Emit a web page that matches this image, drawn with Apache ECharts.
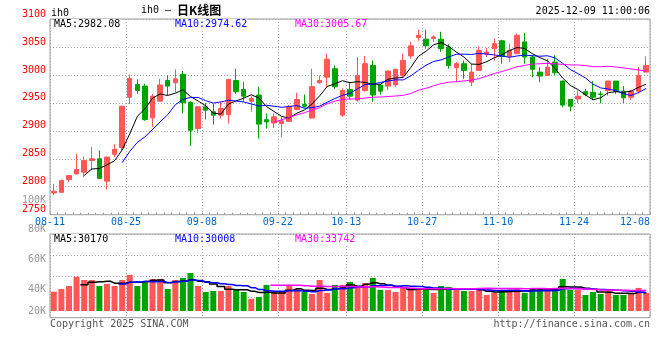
<!DOCTYPE html>
<html><head><meta charset="utf-8">
<script src="https://cdn.jsdelivr.net/npm/echarts@6/dist/echarts.min.js"></script>
<style>html,body{margin:0;padding:0;background:#fff}#c{width:660px;height:360px}</style>
</head><body><div id="c"></div>
<script>
const dates = ['08-12','08-13','08-14','08-15','08-18','08-19','08-20','08-21','08-22','08-25','08-26','08-27','08-28','08-29',
 '09-01','09-02','09-03','09-04','09-05','09-08','09-09','09-10','09-11','09-12','09-15','09-16','09-17','09-18','09-19',
 '09-22','09-23','09-24','09-25','09-26','09-29','09-30','10-09','10-10','10-13','10-14','10-15','10-16','10-17',
 '10-20','10-21','10-22','10-23','10-24','10-27','10-28','10-29','10-30','10-31','11-03','11-04','11-05','11-06','11-07',
 '11-10','11-11','11-12','11-13','11-14','11-17','11-18','11-19','11-20','11-21','11-24','11-25','11-26','11-27','11-28',
 '12-01','12-02','12-03','12-04','12-05','12-08'];
const prevDate = '08-11';
const opens = [2789,2790,2813,2823,2826,2847,2850,2810,2858,2870, 2960,2983,2980,2923,2953,2990,2986,3001,2951,2904,
 2943,2934,2928,2929,2990,2974,2953,2964,2920,2914, 2913,2917,2938,2947,2923,2986,2996,3011,2928,
 2974,2955,2972,3017,2982,2980,2982,2999,3034,3067, 3064,3065,3064,3050,3013,3020,2987,3008,3037,3047,
 3061,3033,3038,3059,3032,3005,2999,3023,2989,2956, 2957,2970,2969,2966,2972,2989,2971,2960,2971,3005];
const closes = [2792,2811,2820,2831,2847,2850,2815,2853,2867,2944, 2994,2972,2920,2962,2982,2980,2993,2950,2901,2943,
 2937,2928,2940,2992,2970,2962,2958,2912,2916,2925, 2918,2943,2956,2944,2979,2990,3028,2979,2972,
 2962,2999,3020,2964,2971,3007,3010,3026,3052,3071, 3052,3068,3047,3017,3020,3008,3005,3044,3041,3056,
 3033,3044,3071,3032,3010,2998,3014,3004,2946,2944, 2962,2965,2960,2965,2989,2971,2959,2971,2999,3017];
const lows = [2785,2789,2808,2822,2817,2829,2814,2795,2853,2866, 2948,2966,2918,2907,2953,2963,2969,2931,2873,2896,
 2920,2911,2922,2913,2966,2952,2934,2886,2904,2905, 2889,2916,2937,2941,2922,2984,2978,2975,2925,
 2956,2952,2970,2952,2965,2973,2979,2996,3029,3061, 3047,3059,3041,3011,2987,2993,2980,3007,3032,3026,
 3020,3023,3038,3020,2996,2987,2999,2999,2942,2935, 2950,2962,2955,2949,2963,2966,2950,2955,2967,3005];
const highs = [2805,2813,2821,2859,2854,2871,2865,2854,2876,2945, 3001,2992,2984,2966,2993,2999,3010,3007,2953,2943,
 2950,2948,2951,2992,3011,2987,2962,2979,2931,2931, 2925,2946,2968,2965,3011,2999,3038,3017,2976,
 2987,3032,3034,3026,2984,3008,3011,3038,3059,3081, 3081,3071,3077,3055,3023,3026,3020,3051,3049,3065,
 3063,3056,3074,3075,3035,3014,3029,3035,2990,2956, 2972,2975,2989,2971,2989,2989,2980,2973,3014,3033];
const volumes = [41500,43300,45300,51500,49300,49300,45300,46700,45300,49300, 52700,45300,48700,50000,50000,43300,49300,50700,54000,45300,
 41300,42000,42000,45300,43300,41300,36700,38000,46000,41300, 41300,45300,43300,41300,40000,49300,40700,
 46000,46000,48000,45300,47300,50700,42700,42700,41300,44000, 44000,43300,42700,40700,45300,44700,42700,42000,42000,42700,
 39300,40700,42700,42700,43300,40700,43300,43300,43300,44000, 50000,42700,42700,39300,41300,40000,42000,39300,39300,40700,
 44000,40700];
const xTickLabels = ['08-11','08-25','09-08','09-22','10-13','10-27','11-10','11-24','12-08'];
const priceLegend = ['MA5:2982.08','MA10:2974.62','MA30:3005.67'];
const volLegend = ['MA5:30170','MA10:30008','MA30:33742'];
const volTickValues = [40000, 60000, 80000];
const extraLabels = ['100K', '20K'];
const maPeriods = [5, 10, 30];
const maColors = ['#000000', '#0000ff', '#ff00ff'];

const RED = '#ff5656', GREEN = '#00a400';
const FONT = 'DejaVu Sans Mono';
function ma(arr, n) {
  return arr.map((v, i) => {
    if (i < n - 1) return '-';
    let s = 0; for (let k = i - n + 1; k <= i; k++) s += arr[k];
    return +(s / n).toFixed(2);
  });
}
const edgeDates = [prevDate].concat(dates);
const lastLabel = xTickLabels[xTickLabels.length - 1];
const showEdge = (idx, val) => xTickLabels.indexOf(val) >= 0;
const kData = dates.map((d, i) => [opens[i], closes[i], lows[i], highs[i]]);
const volData = volumes.map((v, i) => ({ value: v, itemStyle: { color: closes[i] >= opens[i] ? RED : GREEN } }));
const dotted = { color: '#aaaaaa', type: [1, 2], width: 1 };

const series = [{
  type: 'candlestick', xAxisIndex: 0, yAxisIndex: 0, data: kData, barWidth: 5,
  itemStyle: { color: RED, color0: GREEN, borderColor: RED, borderColor0: GREEN, borderWidth: 1 }
}];
maPeriods.forEach((p, j) => {
  series.push({ type: 'line', xAxisIndex: 0, yAxisIndex: 0, data: ma(closes, p), symbol: 'none',
    lineStyle: { color: maColors[j], width: 1 }, z: 5 });
});
series.push({ type: 'bar', xAxisIndex: 3, yAxisIndex: 2, data: volData, barWidth: 6 });
maPeriods.forEach((p, j) => {
  series.push({ type: 'line', xAxisIndex: 3, yAxisIndex: 2, data: ma(volumes, p), symbol: 'none', step: 'middle',
    lineStyle: { color: maColors[j], width: 1.5 }, z: 5 });
});

function txt(x, y, text, fill, align, vAlign, extra) {
  return Object.assign({ type: 'text', x: x, y: y, z: 100,
    style: Object.assign({ text: text, fill: fill, font: '10px "' + FONT + '"', align: align || 'left', verticalAlign: vAlign || 'middle' }, extra || {}) });
}
const legendX = [54, 175, 295];
const graphics = [
  txt(51, 13, 'ih0', '#000'),
  { type: 'text', x: 141, y: 10, z: 100, style: { text: '{a|ih0 – }{b|日K线图}', align: 'left', verticalAlign: 'middle',
    rich: { a: { font: '10px "' + FONT + '"', fill: '#000' }, b: { font: 'bold 12px "Noto Sans CJK SC"', fill: '#000' } } } },
  txt(650, 11, '2025-12-09 11:00:06', '#000', 'right'),
  txt(46, 205, extraLabels[0], '#999', 'right', 'bottom'),
  txt(46, 316, extraLabels[1], '#999', 'right', 'bottom'),
  txt(50, 324, 'Copyright 2025 SINA.COM', '#555'),
  txt(650, 324, 'http://finance.sina.com.cn', '#555', 'right')
];
priceLegend.forEach((t, j) => graphics.push(txt(legendX[j], 24, t, maColors[j], 'left', 'middle', { backgroundColor: '#fff' })));
volLegend.forEach((t, j) => graphics.push(txt(legendX[j], 239, t, maColors[j], 'left', 'middle', { backgroundColor: '#fff' })));

const option = {
  animation: false,
  backgroundColor: '#fff',
  grid: [
    { left: 50, top: 19, width: 600, height: 195.7, show: true, borderColor: '#999', borderWidth: 1 },
    { left: 50, top: 234, width: 600, height: 83.7, show: true, borderColor: '#999', borderWidth: 1 },
    { left: 50, top: 234, width: 600, height: 77, show: false }
  ],
  xAxis: [
    { gridIndex: 0, type: 'category', data: dates, boundaryGap: true, axisLine: { show: false },
      axisTick: { show: true, inside: true, length: 2, interval: 0, lineStyle: { color: '#999' } },
      axisLabel: { show: false }, splitLine: { show: false } },
    { gridIndex: 0, type: 'category', data: edgeDates, boundaryGap: false, position: 'bottom',
      axisLine: { show: false }, axisTick: { show: false },
      axisLabel: { show: true, interval: showEdge, color: '#0066cc', fontFamily: FONT, fontSize: 10, margin: 3,
        formatter: v => v === lastLabel ? '{r|' + v + '}' : v,
        rich: { r: { padding: [0, 30, 0, 0], color: '#0066cc', fontFamily: FONT, fontSize: 10 } } },
      splitLine: { show: true, interval: showEdge, lineStyle: dotted } },
    { gridIndex: 1, type: 'category', data: edgeDates, boundaryGap: false,
      axisLine: { show: false }, axisTick: { show: false }, axisLabel: { show: false },
      splitLine: { show: true, interval: showEdge, lineStyle: dotted } },
    { gridIndex: 2, type: 'category', data: dates, boundaryGap: true,
      axisLine: { show: false }, axisTick: { show: false }, axisLabel: { show: false }, splitLine: { show: false } }
  ],
  yAxis: [
    { gridIndex: 0, type: 'value', min: 2750, max: 3100, interval: 50, axisLine: { show: false }, axisTick: { show: false },
      axisLabel: { color: '#ff0000', fontFamily: FONT, fontSize: 10, margin: 4, verticalAlign: 'bottom', formatter: v => String(v) },
      splitLine: { show: true, lineStyle: dotted } },
    { gridIndex: 1, type: 'value', min: 0, max: 4, interval: 1, axisLine: { show: false }, axisTick: { show: false },
      axisLabel: { show: false }, splitLine: { show: true, lineStyle: dotted } },
    { gridIndex: 2, type: 'value', min: 28600, max: 80000, axisLine: { show: false }, axisTick: { show: false },
      axisLabel: { customValues: volTickValues, formatter: v => (v / 1000) + 'K', color: '#999', fontFamily: FONT, fontSize: 10, margin: 4, verticalAlign: 'bottom' },
      splitLine: { show: false } }
  ],
  series: series,
  graphic: graphics
};
const chart = echarts.init(document.getElementById('c'), null, { renderer: 'canvas' });
chart.setOption(option);
</script></body></html>
